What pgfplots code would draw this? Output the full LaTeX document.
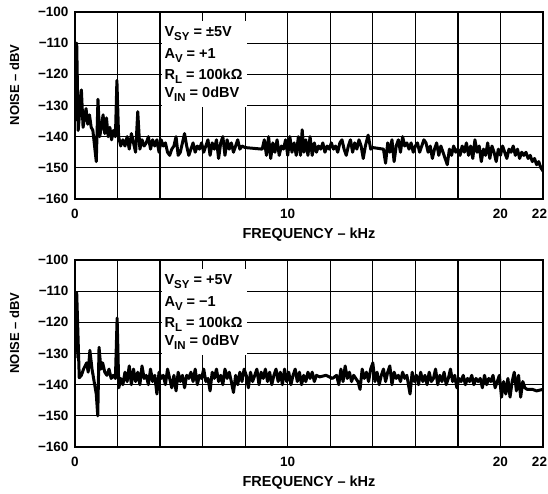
\documentclass[border=0pt]{standalone}
\usepackage{fontspec}
\setmainfont{Liberation Sans}
\usepackage{pgfplots}
\pgfplotsset{compat=1.18}

\pgfplotstableread{
f y
0.00 -135
0.08 -110
0.15 -138
0.22 -132
0.30 -125
0.38 -137
0.45 -134
0.52 -131
0.60 -136
0.68 -133
0.76 -137
0.84 -138
0.92 -143
1.00 -148
1.08 -128
1.16 -140
1.24 -137
1.32 -133
1.40 -139
1.48 -134
1.56 -140
1.64 -137
1.72 -141
1.80 -138
1.90 -140
1.97 -122
2.05 -140
2.15 -143
2.25 -141
2.35 -143
2.45 -140
2.55 -144
2.65 -139
2.75 -142
2.85 -145
2.95 -132
3.05 -144
3.15 -141
3.25 -143
3.35 -142
3.45 -140
3.55 -144
3.65 -141
3.75 -143
3.85 -141
3.95 -145
4.05 -141
4.15 -143
4.25 -142
4.35 -145
4.45 -146
4.55 -144
4.65 -143
4.75 -140
4.85 -146
4.95 -145
5.05 -142
5.15 -139
5.25 -143
5.35 -146
5.45 -144
5.55 -142
5.65 -145
5.75 -143
5.85 -144
5.95 -142
6.05 -145
6.15 -143
6.25 -141
6.35 -146
6.45 -142
6.55 -144
6.65 -141
6.75 -147
6.85 -142
6.95 -140
7.05 -146
7.15 -141
7.25 -144
7.35 -142
7.45 -145
7.55 -143
7.65 -141
7.75 -144
7.85 -143
8.00 -143.5
8.80 -144
8.90 -141
9.00 -146
9.10 -140
9.20 -147
9.30 -142
9.40 -145
9.50 -141
9.60 -146
9.70 -143
9.80 -144
9.90 -141
10.00 -146
10.10 -140
10.20 -145
10.30 -142
10.40 -146
10.50 -140
10.60 -146
10.68 -137.8
10.76 -145
10.85 -141
10.95 -146
11.05 -140
11.15 -146
11.25 -142
11.35 -145
11.45 -143
11.55 -144
11.65 -142
11.75 -145
11.85 -143
11.95 -144
12.05 -142
12.15 -144
12.25 -143
12.35 -145
12.45 -142
12.55 -141
12.65 -144
12.75 -146
12.85 -143
12.95 -141
13.05 -145
13.15 -142
13.25 -144
13.35 -141
13.45 -143
13.55 -147
13.65 -143
13.78 -139.5
13.90 -144
14.00 -143.5
14.50 -144
14.60 -148.5
14.70 -142
14.80 -145
14.90 -141
15.00 -148
15.10 -143
15.20 -141
15.30 -145
15.40 -140
15.50 -143
15.60 -142
15.70 -144
15.80 -142
15.90 -145
16.00 -143
16.10 -142
16.20 -145
16.30 -143
16.40 -141
16.50 -142
16.60 -145
16.70 -143
16.80 -147
16.90 -144
17.00 -142
17.10 -146
17.20 -143
17.30 -145
17.40 -147
17.50 -149
17.60 -144
17.70 -146
17.80 -143
17.90 -145
18.00 -144
18.10 -146
18.20 -143
18.30 -145
18.40 -142
18.50 -146
18.60 -143
18.70 -147
18.80 -141
18.90 -145
19.00 -143
19.10 -148
19.20 -144
19.30 -146
19.40 -142
19.50 -147
19.60 -143
19.70 -145
19.80 -148
19.90 -144
20.00 -146
20.10 -143
20.20 -145
20.30 -147
20.40 -144
20.50 -145
20.60 -143
20.70 -146
20.80 -144
20.90 -147
21.00 -145
21.10 -146
21.20 -145
21.30 -147
21.40 -146
21.50 -148
21.60 -147
21.70 -149
21.80 -148
21.90 -150
22.00 -151
}\topdata

\pgfplotstableread{
f y
0.00 -131.5
0.08 -110.5
0.20 -137.8
0.30 -137
0.40 -135
0.55 -133
0.62 -136
0.70 -129
0.80 -135
0.90 -139
1.00 -143
1.07 -150
1.13 -128
1.22 -135
1.30 -133
1.40 -136
1.50 -137
1.60 -135
1.70 -138
1.80 -137
1.90 -138
1.98 -118.6
2.06 -141
2.15 -138
2.25 -140
2.35 -136
2.45 -139
2.55 -134
2.65 -140
2.75 -135
2.85 -139
2.95 -136
3.05 -140
3.15 -134
3.25 -138
3.35 -137
3.45 -140
3.55 -135
3.65 -139
3.75 -137
3.85 -143
3.95 -136
4.05 -138
4.15 -137
4.25 -140
4.35 -135
4.45 -138
4.55 -141
4.65 -137
4.75 -142
4.85 -136
4.95 -139
5.05 -137
5.15 -141
5.25 -137
5.35 -138
5.45 -136
5.55 -139
5.65 -135
5.75 -140
5.85 -137
5.95 -138
6.05 -135
6.15 -139
6.25 -138
6.35 -142
6.45 -136
6.55 -138
6.65 -135
6.75 -139
6.85 -137
6.95 -140
7.05 -135
7.15 -138
7.25 -136
7.35 -139
7.45 -142.5
7.55 -137
7.65 -140
7.75 -136
7.85 -139
7.95 -135
8.05 -137
8.15 -141
8.25 -136
8.35 -139
8.45 -137
8.55 -135
8.65 -140
8.75 -136
8.85 -138
8.95 -135
9.05 -139
9.15 -136
9.25 -140
9.35 -137
9.45 -135
9.55 -139
9.65 -136
9.75 -140
9.85 -135
9.95 -139
10.05 -136
10.15 -140
10.25 -137
10.35 -135
10.45 -139
10.55 -136
10.65 -140
10.75 -137
10.85 -139
10.95 -136
11.05 -138
11.15 -136
11.25 -139
11.35 -137
11.50 -137.5
11.80 -137
12.10 -138
12.30 -137
12.40 -140
12.50 -135
12.60 -139
12.70 -134
12.80 -138
12.90 -136
13.00 -139
13.10 -137
13.20 -138
13.30 -139
13.40 -141.5
13.50 -135
13.60 -138
13.70 -136
13.80 -139
13.90 -135
14.00 -133
14.10 -139
14.20 -136
14.30 -140
14.40 -137
14.50 -135
14.60 -139
14.70 -136
14.80 -134
14.90 -140
15.00 -136
15.10 -138
15.20 -137
15.30 -139
15.40 -136
15.50 -138
15.60 -137
15.75 -143
15.85 -136
15.95 -139
16.05 -137
16.15 -140
16.25 -136
16.35 -139
16.45 -137
16.55 -140
16.65 -136
16.75 -139
16.85 -138
16.95 -135
17.05 -140
17.15 -137
17.25 -139
17.35 -136
17.45 -140
17.55 -138
17.65 -135
17.75 -139
17.85 -137
17.95 -141
18.05 -138
18.15 -139
18.25 -137
18.35 -140
18.45 -138
18.55 -139
18.65 -137
18.75 -140
18.85 -138
18.95 -139
19.05 -138
19.15 -141
19.25 -137
19.35 -140
19.45 -138
19.55 -139
19.65 -137
19.75 -141
19.85 -139
19.95 -137
20.05 -144
20.15 -139
20.25 -143
20.35 -138
20.45 -144
20.55 -139
20.65 -136
20.75 -142
20.85 -137
20.95 -144
21.05 -139
21.15 -141
21.25 -141.5
21.50 -141.5
21.70 -142
22.00 -141.5
}\botdata

\pgfplotsset{noiseax/.style={
  width=468pt, height=187pt, scale only axis,
  xmin=0, xmax=22, ymin=-160, ymax=-100,
  xtick={0,2,...,22}, xticklabels={0,,,,,10,,,,,20,22\kern7pt},
  ytick={-160,-150,...,-100},
  yticklabels={−160,−150,−140,−130,−120,−110,−100},
  grid=major, major grid style={black, line width=1.3pt},
  major tick length=0pt,
  axis line style={line width=2pt},
  tick label style={font=\fontsize{13.5}{15}\selectfont\bfseries},
  xlabel style={font=\fontsize{14.5}{16}\selectfont\bfseries, yshift=-2pt},
  ylabel style={font=\fontsize{13}{15}\selectfont\bfseries, at={(ticklabel cs:0.61)}},
  ylabel shift=12pt,
  xlabel={FREQUENCY – kHz}, ylabel={NOISE – dBV},
  xticklabel style={yshift=-7pt}, yticklabel style={xshift=-3pt},
}}

\newcommand{\sub}[1]{\raisebox{-0.28em}{\fontsize{11.5}{12}\selectfont #1}}
\newcommand{\infobox}[4]{%
  \fill[white] (axis cs:4.1,-103) rectangle (axis cs:8.1,-130.5);
  \node[anchor=base west, inner sep=0pt, font=\fontsize{14.5}{16}\selectfont\bfseries] at (axis cs:4.2,-108.0) {#1};
  \node[anchor=base west, inner sep=0pt, font=\fontsize{14.5}{16}\selectfont\bfseries] at (axis cs:4.2,-114.8) {#2};
  \node[anchor=base west, inner sep=0pt, font=\fontsize{14.5}{16}\selectfont\bfseries] at (axis cs:4.2,-121.5) {#3};
  \node[anchor=base west, inner sep=0pt, font=\fontsize{14.5}{16}\selectfont\bfseries] at (axis cs:4.2,-127.3) {#4};
}

\begin{document}
\begin{tikzpicture}
\path[use as bounding box] (-75pt,-295pt) rectangle (473pt,199pt);
\begin{axis}[noiseax, at={(0pt,0pt)}, anchor=south west]
  \addplot[black, line width=3pt, line join=round, no markers] table[x=f, y=y] {\topdata};
  \infobox{V\sub{SY} = ±5V}{A\sub{V} = +1}{R\sub{L} = 100kΩ}{V\sub{IN} = 0dBV}
\end{axis}
\begin{axis}[noiseax, at={(0pt,-248pt)}, anchor=south west]
  \addplot[black, line width=3pt, line join=round, no markers] table[x=f, y=y] {\botdata};
  \infobox{V\sub{SY} = +5V}{A\sub{V} = −1}{R\sub{L} = 100kΩ}{V\sub{IN} = 0dBV}
\end{axis}
\end{tikzpicture}
\end{document}
